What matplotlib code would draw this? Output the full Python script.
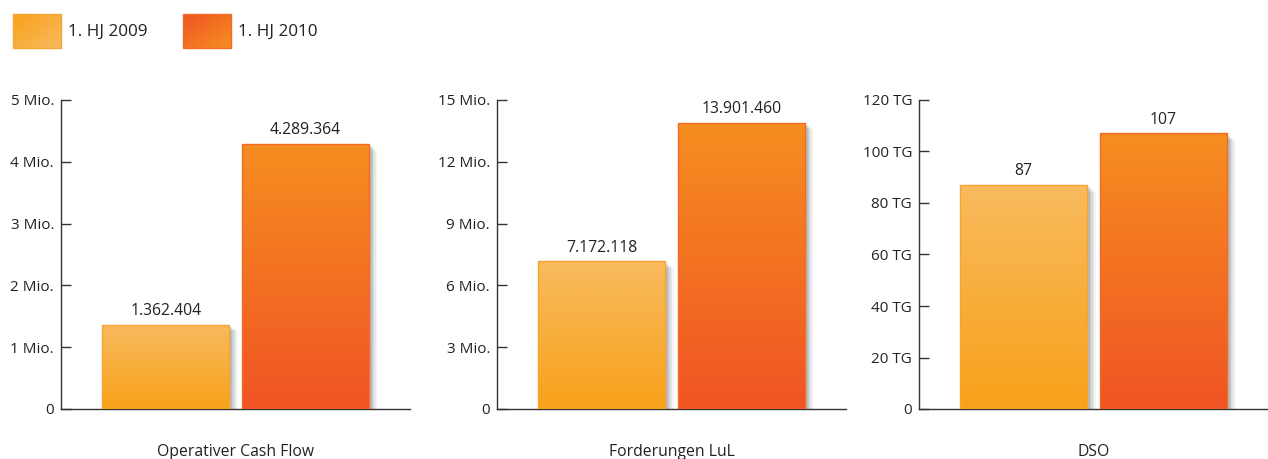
import numpy as np
import matplotlib.pyplot as plt
import matplotlib.patheffects as pe
from matplotlib.colors import LinearSegmentedColormap

plt.rcParams['font.family'] = ['Open Sans', 'DejaVu Sans']

# data
series = ["1. HJ 2009", "1. HJ 2010"]
categories = ["Operativer Cash Flow", "Forderungen LuL", "DSO"]
values_2009 = [1362404, 7172118, 87]
values_2010 = [4289364, 13901460, 107]
y_max = [5000000, 15000000, 120]
y_step = [1000000, 3000000, 20]
y_unit = ["Mio.", "Mio.", "TG"]
y_scale = [1000000, 1000000, 1]

# gradient colours (top, bottom) and edge colours
grad = [("#f8bb5e", "#f8a11a"), ("#f68e20", "#f05424")]
edges = ["#f7a530", "#f26a2a"]
text_col = "#222222"

W, H = 1268, 459
fig = plt.figure(figsize=(W / 100, H / 100), dpi=100)

lefts = [61, 497, 919]
width_px = 349

shadow = [pe.SimplePatchShadow(offset=(o, -o * 0.8), shadow_rgbFace="#000000", alpha=a)
          for o, a in [(6, 0.04), (5, 0.05), (4, 0.06), (3, 0.07), (2, 0.08)]] + [pe.Normal()]


def fmt_val(v):
    return f"{v:,}".replace(",", ".")


for i, cat in enumerate(categories):
    ax = fig.add_axes([lefts[i] / W, 50 / H, width_px / W, 309 / H])
    x = np.array([0, 1])
    vals = [values_2009[i], values_2010[i]]
    for j in range(2):
        b = ax.bar(x[j], vals[j], 0.91, color=grad[j][0], linewidth=0, zorder=2,
                   path_effects=shadow)[0]
        cmap = LinearSegmentedColormap.from_list("g", [grad[j][1], grad[j][0]])
        x0 = x[j] - 0.455
        im = ax.imshow(np.linspace(0, 1, 256).reshape(-1, 1), cmap=cmap, origin="lower",
                       extent=[x0, x0 + 0.91, 0, vals[j]], aspect="auto", zorder=3)
        im.set_clip_path(b)
        ax.bar(x[j], vals[j], 0.91, fill=False, edgecolor=edges[j], linewidth=1, zorder=4)
        ax.annotate(fmt_val(vals[j]), (x[j], vals[j]), xytext=(0, 4), textcoords="offset points",
                    ha="center", va="bottom", fontsize=11.3, color=text_col)

    ax.set_xlim(-0.75, 1.75)
    ax.set_ylim(0, y_max[i])
    ticks = np.arange(0, y_max[i] + 1, y_step[i])
    ax.set_yticks(ticks)
    ax.set_yticklabels(["0"] + [f"{int(t / y_scale[i])} {y_unit[i]}" for t in ticks[1:]])
    ax.set_xticks([])
    ax.tick_params(axis="y", direction="in", length=7, width=1, colors="#333333", pad=5,
                   labelsize=11, labelcolor=text_col)
    for s in ["top", "right"]:
        ax.spines[s].set_visible(False)
    for s in ["left", "bottom"]:
        ax.spines[s].set_color("#333333")
        ax.spines[s].set_linewidth(1)
    ax.set_facecolor("none")
    ax.text(0.5, -0.139, cat, transform=ax.get_xaxis_transform(), ha="center", va="center",
            fontsize=11.3, color=text_col)

# legend drawn in pixel coordinates
lax = fig.add_axes([0, 0, 1, 1])
lax.set_xlim(0, W)
lax.set_ylim(H, 0)
lax.axis("off")
lax.set_facecolor("none")
leg_x = [13, 183]
diag = np.add.outer(np.linspace(0, 1, 40), np.linspace(0, 1, 60)) / 2
for j, name in enumerate(series):
    cmap = LinearSegmentedColormap.from_list("l", [grad[j][1], grad[j][0]])
    lax.imshow(diag, cmap=cmap, extent=[leg_x[j], leg_x[j] + 48, 48, 14], aspect="auto", zorder=2)
    lax.add_patch(plt.Rectangle((leg_x[j], 14), 48, 34, fill=False, edgecolor=edges[j], linewidth=1, zorder=3))
    lax.text(leg_x[j] + 55, 32, name, ha="left", va="center", fontsize=12.3, color=text_col)
lax.set_xlim(0, W)
lax.set_ylim(H, 0)

fig.savefig("out.png", dpi=100)
